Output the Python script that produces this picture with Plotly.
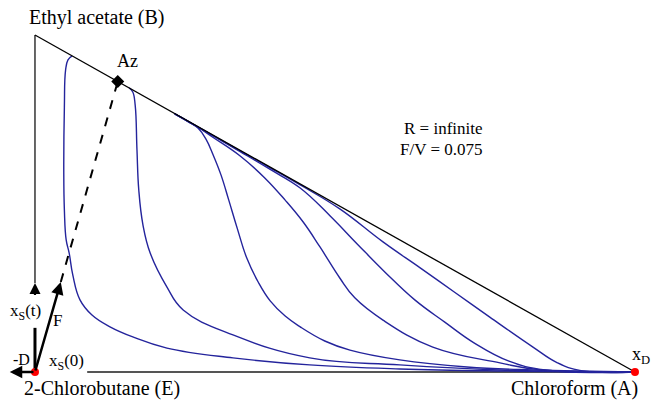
import plotly.graph_objects as go

# Residue curves: x_A (chloroform, horizontal) and x_B (ethyl acetate, vertical) mole fractions
curve1_xA = [0.062, 0.055, 0.051, 0.049, 0.048, 0.049, 0.052, 0.057, 0.063, 0.075, 0.095, 0.125, 0.163, 0.220, 0.330, 0.458, 0.608, 0.775, 1.0]
curve1_xB = [0.938, 0.926, 0.896, 0.786, 0.591, 0.481, 0.392, 0.353, 0.288, 0.214, 0.169, 0.134, 0.104, 0.071, 0.042, 0.021, 0.009, 0.003, 0.0]

curve2_xA = [0.157, 0.163, 0.167, 0.170, 0.173, 0.180, 0.192, 0.220, 0.247, 0.330, 0.458, 0.608, 0.775, 1.0]
curve2_xB = [0.843, 0.831, 0.792, 0.659, 0.540, 0.436, 0.353, 0.252, 0.184, 0.110, 0.042, 0.021, 0.006, 0.0]

curve3_xA = [0.233, 0.255, 0.272, 0.285, 0.297, 0.310, 0.323, 0.337, 0.353, 0.372, 0.392, 0.417, 0.442, 0.483, 0.525, 0.608, 0.720, 0.830, 1.0]
curve3_xB = [0.766, 0.743, 0.723, 0.691, 0.644, 0.585, 0.510, 0.427, 0.338, 0.267, 0.211, 0.166, 0.134, 0.092, 0.065, 0.036, 0.015, 0.006, 0.0]

curve4_xA = [0.233, 0.267, 0.297, 0.342, 0.383, 0.417, 0.447, 0.475, 0.508, 0.533, 0.580, 0.663, 0.775, 0.840, 1.0]
curve4_xB = [0.766, 0.7315, 0.696, 0.641, 0.576, 0.510, 0.445, 0.371, 0.279, 0.220, 0.154, 0.074, 0.027, 0.007, 0.0]

curve5_xA = [0.233, 0.300, 0.342, 0.392, 0.442, 0.492, 0.537, 0.583, 0.633, 0.683, 0.733, 0.790, 0.850, 1.0]
curve5_xB = [0.766, 0.698, 0.654, 0.601, 0.546, 0.463, 0.380, 0.297, 0.214, 0.148, 0.085, 0.032, 0.006, 0.0]

curve6_xA = [0.233, 0.333, 0.392, 0.442, 0.508, 0.580, 0.642, 0.700, 0.758, 0.830, 0.870, 0.910, 1.0]
curve6_xB = [0.766, 0.665, 0.606, 0.555, 0.484, 0.386, 0.309, 0.236, 0.163, 0.074, 0.028, 0.004, 0.0]

curves = [(curve1_xA, curve1_xB), (curve2_xA, curve2_xB), (curve3_xA, curve3_xB),
          (curve4_xA, curve4_xB), (curve5_xA, curve5_xB), (curve6_xA, curve6_xB)]

# Key points
azeotrope = (0.138, 0.862)
feed_tip = (0.043, 0.267)
xs_t_tip = (0.0, 0.264)
xs_t_stem = 0.131
minus_d_tip = (-0.042, 0.0)
bottom_start = 0.087

SERIF = "Liberation Serif, Times New Roman, serif"
BLUE = "#24249c"

fig = go.Figure()

# Bottom edge (E-A)
fig.add_trace(go.Scatter(x=[bottom_start, 1.0], y=[0, 0], mode="lines",
                         line=dict(color="#555555", width=2), hoverinfo="skip"))

# Residue curves
for xa, xb in curves:
    fig.add_trace(go.Scatter(x=xa, y=xb, mode="lines", line_shape="spline",
                             line=dict(color=BLUE, width=1.4, smoothing=1.2), hoverinfo="skip"))

# Hypotenuse B-A
fig.add_trace(go.Scatter(x=[0, 1], y=[1, 0], mode="lines",
                         line=dict(color="black", width=1.3), hoverinfo="skip"))
# Left edge (thin part above x_S(t) arrowhead)
fig.add_trace(go.Scatter(x=[0, 0], y=[xs_t_tip[1], 1], mode="lines",
                         line=dict(color="black", width=1.2), hoverinfo="skip"))
# x_S(t) thick stem
fig.add_trace(go.Scatter(x=[0, 0], y=[0, xs_t_stem], mode="lines",
                         line=dict(color="black", width=3), hoverinfo="skip"))
# Dashed line from F arrow tip to azeotrope
fig.add_trace(go.Scatter(x=[feed_tip[0], azeotrope[0]], y=[feed_tip[1], azeotrope[1]], mode="lines",
                         line=dict(color="black", width=2, dash="dash"), hoverinfo="skip"))
# Azeotrope marker
fig.add_trace(go.Scatter(x=[azeotrope[0]], y=[azeotrope[1]], mode="markers",
                         marker=dict(symbol="diamond", size=10, color="black"), hoverinfo="skip"))
# Red points at E and A
fig.add_trace(go.Scatter(x=[0, 1], y=[0, 0], mode="markers",
                         marker=dict(size=8, color="red"), hoverinfo="skip"))

# Arrows
def arrow(tip, tail, width, size=1.0):
    fig.add_annotation(x=tip[0], y=tip[1], ax=tail[0], ay=tail[1], xref="x", yref="y",
                       axref="x", ayref="y", showarrow=True, arrowhead=2, arrowsize=size,
                       arrowwidth=width, arrowcolor="black", text="")

arrow(feed_tip, (0, 0), 2.5)
arrow(minus_d_tip, (0, 0), 2.5)
arrow(xs_t_tip, (0, xs_t_tip[1] - 0.04), 2.2)

def label(x, y, text, size=15, xanchor="center"):
    fig.add_annotation(x=x, y=y, xref="x", yref="y", text=text, showarrow=False,
                       font=dict(family=SERIF, size=size, color="black"), xanchor=xanchor, yanchor="middle")

label(0.103, 1.052, "Ethyl acetate (B)", size=20)
label(0.112, -0.05, "2-Chlorobutane (E)", size=20)
label(0.9, -0.05, "Chloroform (A)", size=20)
label(0.155, 0.922, "Az", size=18)
label(0.75, 0.724, "R = infinite", size=17, xanchor="right")
label(0.75, 0.659, "F/V = 0.075", size=17, xanchor="right")
label(0.038, 0.154, "F", size=17)
label(-0.015, 0.178, "x<sub>S</sub>(t)", size=17)
label(-0.023, 0.036, "-D", size=16)
label(0.052, 0.030, "x<sub>S</sub>(0)", size=17)
label(1.01, 0.05, "x<sub>D</sub>", size=18)

fig.update_xaxes(range=[-0.0583, 1.0267], visible=False)
fig.update_yaxes(range=[-0.092, 1.1039], visible=False)
fig.update_layout(width=651, height=403, margin=dict(l=0, r=0, t=0, b=0),
                  plot_bgcolor="white", paper_bgcolor="white", showlegend=False)

fig.write_html("out.html")
